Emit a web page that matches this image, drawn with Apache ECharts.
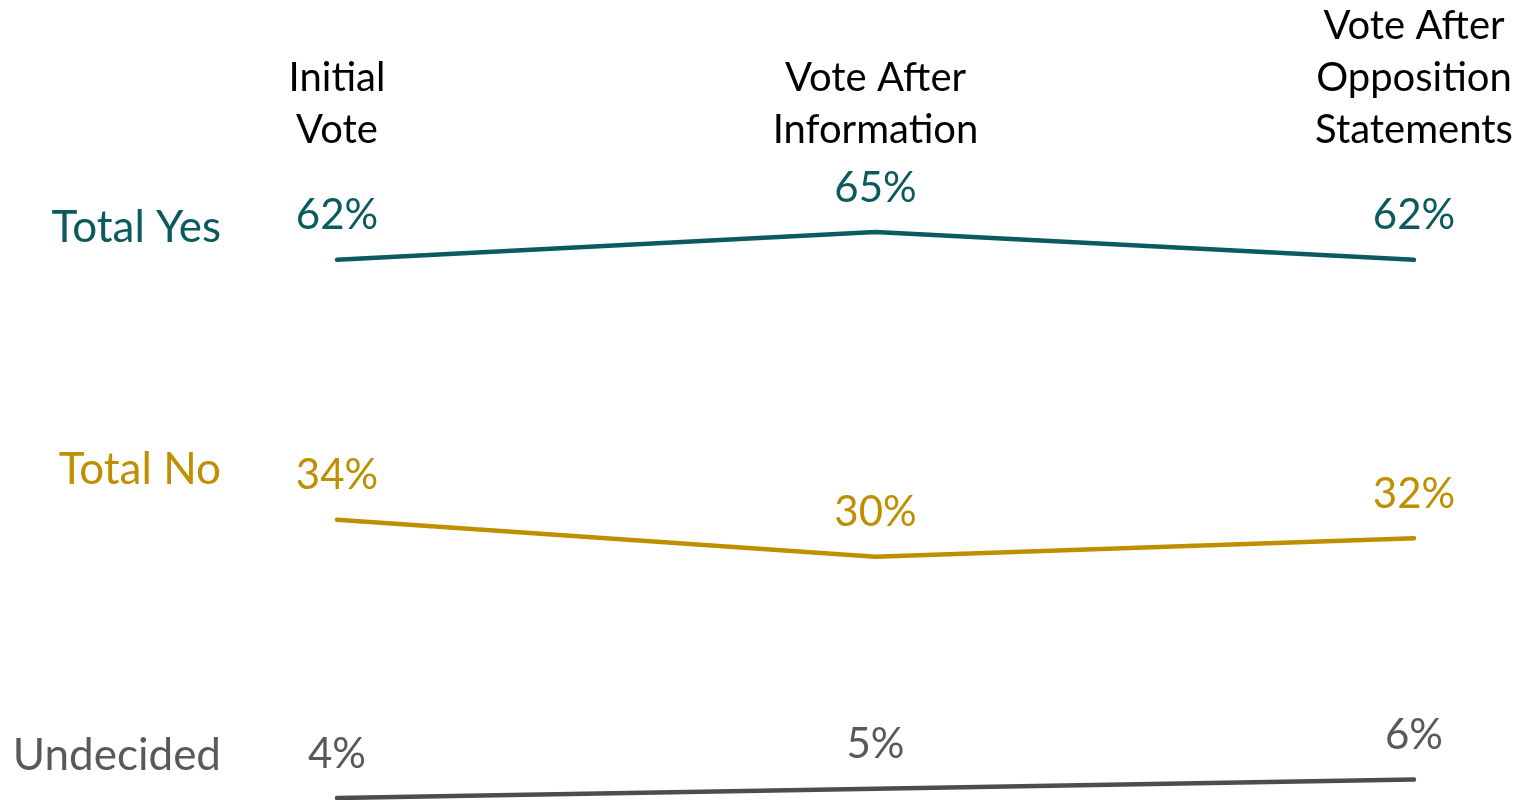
<!DOCTYPE html>
<html>
<head>
<meta charset="utf-8">
<script src="https://cdn.jsdelivr.net/npm/echarts@6/dist/echarts.min.js"></script>
<style>
  html, body { margin: 0; padding: 0; background: #fff; }
  #chart { width: 1522px; height: 800px; }
</style>
</head>
<body>
<div id="chart"></div>
<script>
// categories (top labels)
var categories = ['Initial\nVote', 'Vote After\nInformation', 'Vote After\nOpposition\nStatements']
// series values (%)
var totalYes = [62, 65, 62]
var totalNo = [34, 30, 32]
var undecided = [4, 5, 6]
var seriesNames = ['Total Yes', 'Total No', 'Undecided']

var colors = ['#0A5A5E', '#BF8F00', '#595959']
var lineColors = ['#0A5A5E', '#BF8F00', '#4D4D4D']
var fontName = 'Lato'

var chart = echarts.init(document.getElementById('chart'))

function makeSeries(name, data, i) {
  return {
    name: name,
    type: 'line',
    data: data,
    symbol: 'circle',
    symbolSize: 0,
    showSymbol: true,
    clip: false,
    itemStyle: { color: lineColors[i] },
    lineStyle: { color: lineColors[i], width: 4.5, cap: 'round' },
    label: {
      show: true,
      position: 'top',
      distance: 20,
      formatter: '{c}%',
      color: colors[i],
      fontFamily: fontName,
      fontSize: 42,
      lineHeight: 48
    }
  }
}

// left-side series name labels
var nameY = [230, 472, 758]
var graphics = seriesNames.map(function (n, i) {
  return {
    type: 'text',
    right: 1522 - 221,
    top: nameY[i] - 24,
    style: {
      text: n,
      fill: colors[i],
      font: '44px ' + fontName,
      textAlign: 'right'
    }
  }
})

chart.setOption({
  animation: false,
  grid: { left: 337, right: 108, top: 232, bottom: 2 },
  xAxis: {
    type: 'category',
    position: 'top',
    boundaryGap: false,
    data: categories,
    axisLine: { show: false },
    axisTick: { show: false },
    splitLine: { show: false },
    axisLabel: {
      interval: 0,
      margin: 76,
      color: '#000',
      fontFamily: fontName,
      fontSize: 40,
      lineHeight: 52
    }
  },
  yAxis: {
    type: 'value',
    min: 4,
    max: 65,
    show: false
  },
  graphic: graphics,
  series: [
    makeSeries(seriesNames[0], totalYes, 0),
    makeSeries(seriesNames[1], totalNo, 1),
    makeSeries(seriesNames[2], undecided, 2)
  ]
})
</script>
</body>
</html>
